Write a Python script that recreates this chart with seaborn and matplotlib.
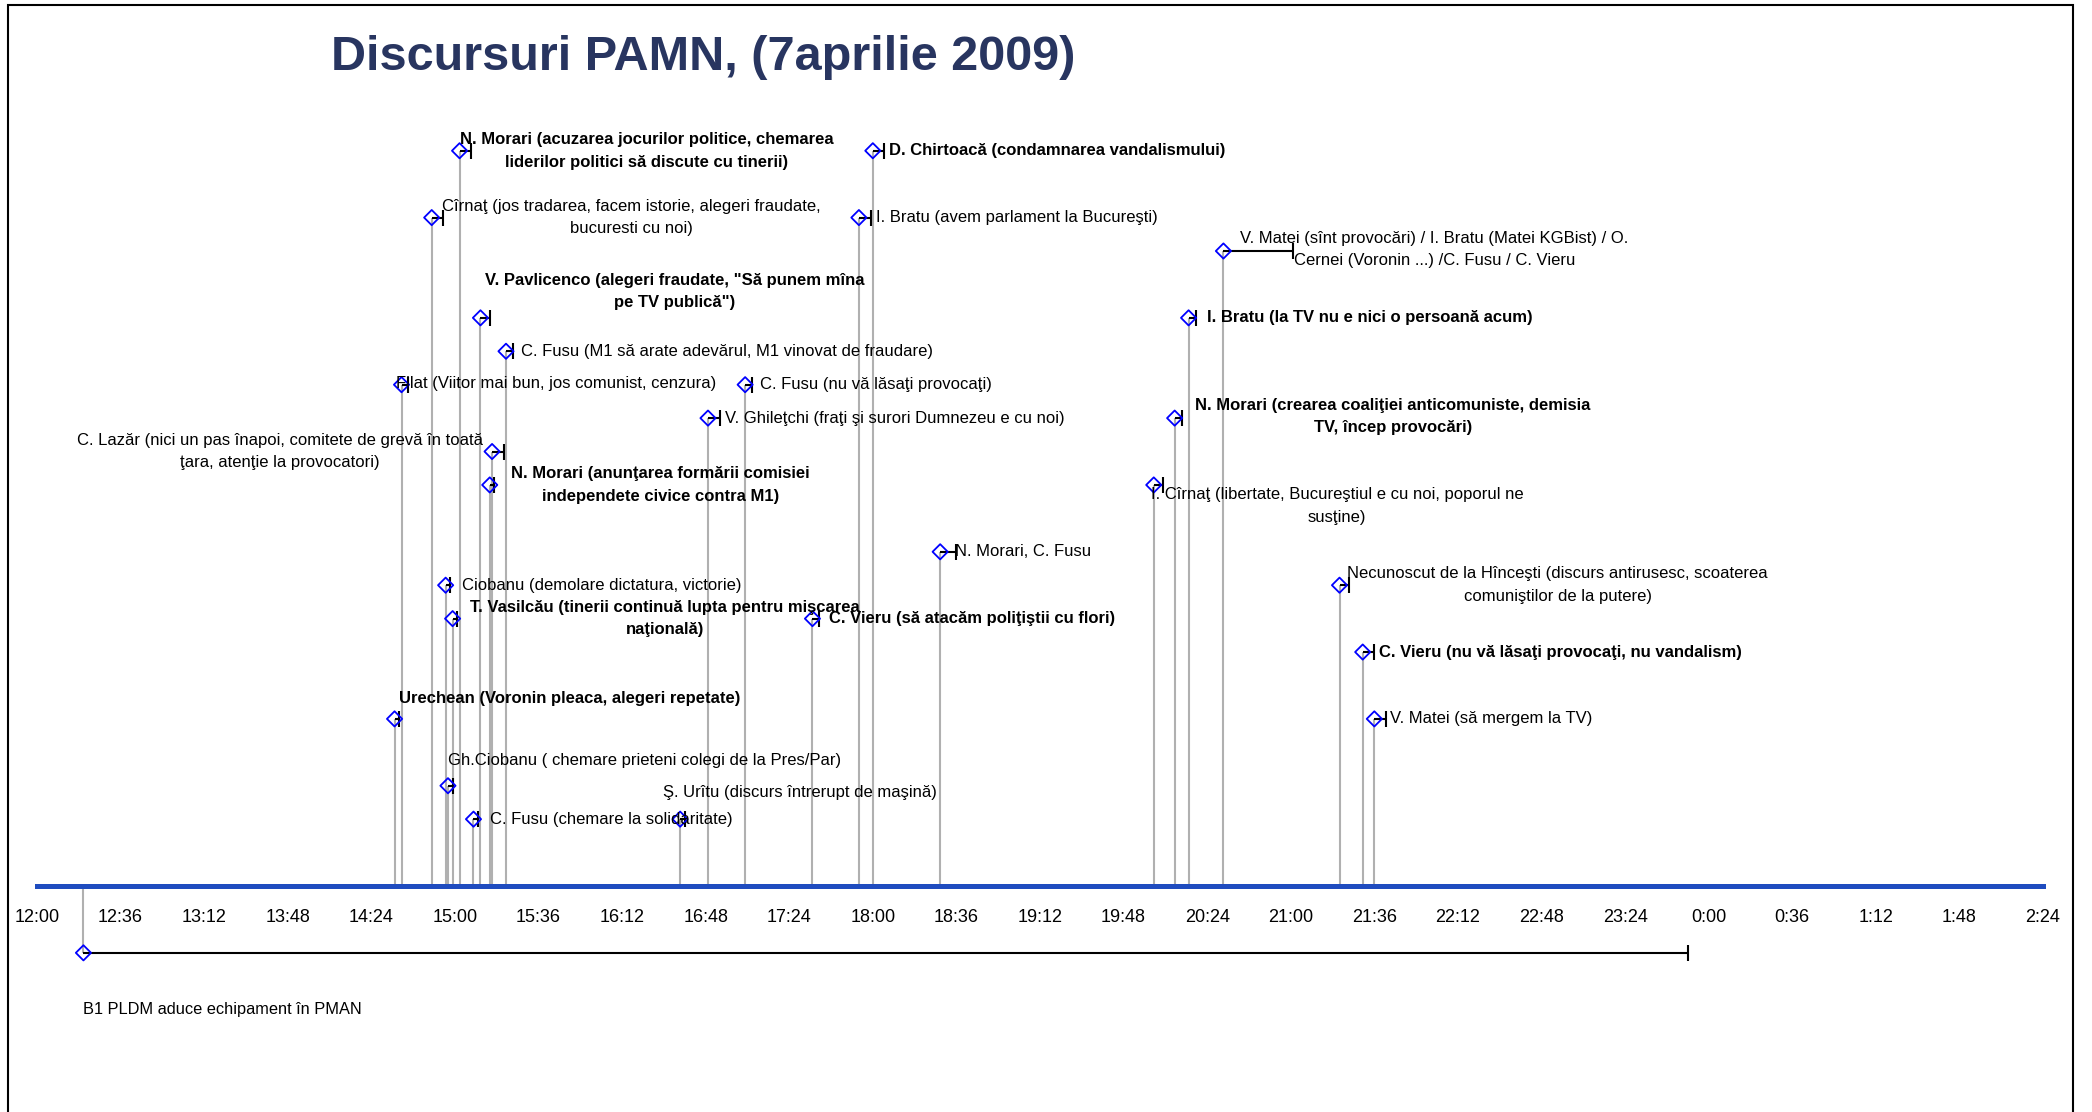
import numpy as np
import pandas as pd
import matplotlib
matplotlib.use("Agg")
import matplotlib.pyplot as plt
import seaborn as sns
from matplotlib.patches import Rectangle

sns.set_theme(style="white")
plt.rcParams['font.family'] = ['Liberation Sans', 'DejaVu Sans']

# --- data: start time, duration (minutes), height level, text ---
start_times = ["15:02", "14:50", "15:11", "15:22", "14:37", "17:05", "16:49",
               "15:16", "15:15", "18:00", "17:54", "20:31", "20:16", "20:10",
               "20:01", "18:29", "14:56", "14:59", "17:34", "14:34", "14:57",
               "15:08", "16:37", "21:21", "21:31", "21:36", "12:20"]
durations = [5, 5, 4, 3, 3, 3, 5, 5, 2, 5, 5, 30, 3, 3,
             4, 7, 2, 2, 3, 2, 2, 2, 2, 4, 5, 5, 691]
levels = [22, 20, 17, 16, 15, 15, 14, 13, 12, 22, 20, 19, 17, 14,
          12, 10, 9, 8, 8, 5, 3, 2, 2, 9, 7, 5, -2]
labels = [
    "N. Morari (acuzarea jocurilor politice, chemarea\nliderilor politici să discute cu tinerii)",
    "Cîrnaţ (jos tradarea, facem istorie, alegeri fraudate,\nbucuresti cu noi)",
    'V. Pavlicenco (alegeri fraudate, "Să punem mîna\npe TV publică")',
    "C. Fusu (M1 să arate adevărul, M1 vinovat de fraudare)",
    "Filat (Viitor mai bun, jos comunist, cenzura)",
    "C. Fusu (nu vă lăsaţi provocaţi)",
    "V. Ghileţchi (fraţi şi surori Dumnezeu e cu noi)",
    "C. Lazăr (nici un pas înapoi, comitete de grevă în toată\nţara, atenţie la provocatori)",
    "N. Morari (anunţarea formării comisiei\nindependete civice contra M1)",
    "D. Chirtoacă (condamnarea vandalismului)",
    "I. Bratu (avem parlament la Bucureşti)",
    "V. Matei (sînt provocări) / I. Bratu (Matei KGBist) / O.\nCernei (Voronin ...) /C. Fusu / C. Vieru",
    "I. Bratu (la TV nu e nici o persoană acum)",
    "N. Morari (crearea coaliţiei anticomuniste, demisia\nTV, încep provocări)",
    "I. Cîrnaţ (libertate, Bucureştiul e cu noi, poporul ne\nsusţine)",
    "N. Morari, C. Fusu",
    "Ciobanu (demolare dictatura, victorie)",
    "T. Vasilcău (tinerii continuă lupta pentru mişcarea\nnaţională)",
    "C. Vieru (să atacăm poliţiştii cu flori)",
    "Urechean (Voronin pleaca, alegeri repetate)",
    "Gh.Ciobanu ( chemare prieteni colegi de la Pres/Par)",
    "C. Fusu (chemare la solidaritate)",
    "Ş. Urîtu (discurs întrerupt de maşină)",
    "Necunoscut de la Hînceşti (discurs antirusesc, scoaterea\ncomuniştilor de la putere)",
    "C. Vieru (nu vă lăsaţi provocaţi, nu vandalism)",
    "V. Matei (să mergem la TV)",
    "B1 PLDM aduce echipament în PMAN",
]
bold = [1, 0, 1, 0, 0, 0, 0, 0, 1, 1, 0, 0, 1, 1,
        0, 0, 0, 1, 1, 1, 0, 0, 0, 0, 1, 0, 0]

# --- label layout (offset from marker in points) ---
label_dx = [135, 144, 140, 11, -4, 11, 12, -153, 123, 12, 12, 152, 13, 157,
            132, 11, 12, 153, 12, 3, 0, 12, -12, 157, 12, 11, 0]
label_dy = [0, 0, 19, 0, 1, 0, 0, 0, 0, 0, 0, 1, 0, 1,
            -15, 0, 0, 0, 0, 15, 18, 0, 19, 0, 0, 0, -41]
label_ha = ["center", "center", "center", "left", "left", "left", "left",
            "center", "center", "left", "left", "center", "left", "center",
            "center", "left", "left", "center", "left", "left", "left",
            "left", "left", "center", "left", "left", "left"]

AXIS_BLUE = "#1f4cbf"


def to_hours(s):
    h, m = s.split(":")
    return int(h) + int(m) / 60


df = pd.DataFrame({
    "time": [to_hours(t) for t in start_times],
    "level": levels,
    "dur": np.array(durations) / 60,
    "label": labels,
})

fig = plt.figure(figsize=(20.92, 11.12), dpi=100)
ax = fig.add_axes([0.017686, 0.02293, 0.958891, 0.90162])

# drop lines to the time axis
ax.vlines(df["time"], 0, df["level"], color="#b0b0b0", lw=1.5, zorder=1)

# duration bars (plus side only)
eb = ax.errorbar(df["time"], df["level"], xerr=[np.zeros(len(df)), df["dur"]],
                 fmt="none", ecolor="black", elinewidth=1.5, capsize=5.5,
                 capthick=1.5, zorder=2)
eb[1][0].set_visible(False)

sns.scatterplot(data=df, x="time", y="level", marker="D", s=60,
                color="#0000ff", facecolor="none", edgecolor="#0000ff",
                linewidth=1.3, ax=ax, zorder=3)

for i, row in df.iterrows():
    ax.annotate(row["label"], (row["time"], row["level"]),
                xytext=(label_dx[i], label_dy[i]), textcoords="offset points",
                ha=label_ha[i], va="center", multialignment="center",
                fontsize=12 if i < len(df) - 1 else 11.8,
                fontweight="bold" if bold[i] else "normal",
                linespacing=1.63, color="black", zorder=4)

# time axis
ax.set_xlim(12, 26.4)
ax.set_ylim(-6, 24)
for s in ["top", "left", "right"]:
    ax.spines[s].set_visible(False)
ax.spines["bottom"].set_position(("data", 0))
ax.spines["bottom"].set_color(AXIS_BLUE)
ax.spines["bottom"].set_linewidth(3.6)
ax.set_yticks([])
ticks = np.arange(0, 25) * 0.6 + 12
tick_labels = []
for t in ticks:
    mins = int(round(t * 60))
    tick_labels.append(f"{(mins // 60) % 24}:{mins % 60:02d}")
ax.set_xticks(ticks)
ax.set_xticklabels(tick_labels)
ax.tick_params(axis="x", direction="out", length=5.3, width=4,
               color=AXIS_BLUE, pad=11, labelsize=13, labelcolor="black")
ax.set_xlabel("")
ax.set_ylabel("")
ax.grid(False)

fig.text(703 / 2092, 1 - 58 / 1112, "Discursuri PAMN, (7aprilie 2009)",
         ha="center", va="center", fontsize=35, fontweight="bold",
         color="#283560")

fig.add_artist(Rectangle((8 / 2092, -0.1), (2073 - 8) / 2092, 1.1 - 5 / 1112,
                         transform=fig.transFigure, fill=False,
                         edgecolor="black", lw=1.5))

fig.savefig("out.png", dpi=100)
